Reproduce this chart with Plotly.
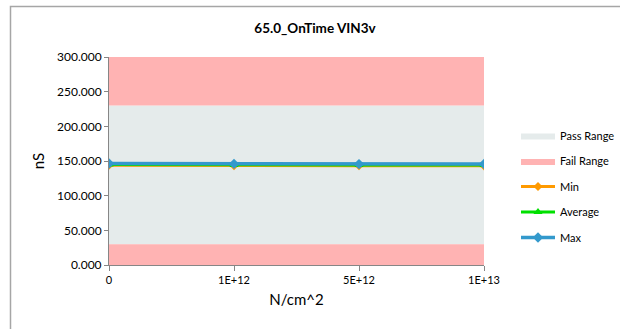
import plotly.graph_objects as go

categories = ["0", "1E+12", "5E+12", "1E+13"]
min_vals = [144.0, 143.2, 143.3, 143.0]
avg_vals = [145.0, 144.2, 144.4, 144.2]
max_vals = [146.4, 145.8, 145.5, 145.6]
pass_low, pass_high = 30.0, 230.0
axis_min, axis_max = 0.0, 300.0
yticks = [0, 50, 100, 150, 200, 250, 300]

W, H = 620, 329
L, R, T, B = 109, 136, 57, 64
pw, ph = W - L - R, H - T - B

xi = list(range(len(categories)))
x0, x1 = xi[0], xi[-1]

FONT = "Lato, Carlito, 'Liberation Sans', sans-serif"

fig = go.Figure()

# pass band
fig.add_trace(go.Scatter(
    x=[x0, x1, x1, x0, x0], y=[pass_low, pass_low, pass_high, pass_high, pass_low],
    fill="toself", fillcolor="#E5EBEB", line=dict(width=0), mode="lines",
    name="Pass Range", hoverinfo="skip", legendgroup="a"))
# fail bands (below and above the pass band)
fig.add_trace(go.Scatter(
    x=[x0, x1, x1, x0, x0, None, x0, x1, x1, x0, x0],
    y=[axis_min, axis_min, pass_low, pass_low, axis_min, None,
       pass_high, pass_high, axis_max, axis_max, pass_high],
    fill="toself", fillcolor="#FFB3B3", line=dict(width=0), mode="lines",
    name="Fail Range", hoverinfo="skip", legendgroup="b"))

fig.add_trace(go.Scatter(x=xi, y=min_vals, name="Min", mode="lines+markers",
                         line=dict(color="#FF9A00", width=3),
                         marker=dict(symbol="diamond", size=7, color="#FF9A00"),
                         legendgroup="c"))
fig.add_trace(go.Scatter(x=xi, y=avg_vals, name="Average", mode="lines+markers",
                         line=dict(color="#00E000", width=3),
                         marker=dict(symbol="triangle-up", size=8, color="#00E000"),
                         legendgroup="d"))
fig.add_trace(go.Scatter(x=xi, y=max_vals, name="Max", mode="lines+markers",
                         line=dict(color="#3399CC", width=3.5),
                         marker=dict(symbol="diamond", size=8, color="#3399CC"),
                         legendgroup="e"))

# outer chart border
fig.add_shape(type="rect", xref="paper", yref="paper",
              x0=(10.5 - L) / pw, x1=(W + 10 - L) / pw,
              y0=-(H + 10 - ph - T) / ph, y1=1 + (T - 6.5) / ph,
              line=dict(color="#A6A6A6", width=1.5), fillcolor="rgba(0,0,0,0)",
              layer="below")

fig.update_layout(
    width=W, height=H, autosize=False,
    margin=dict(l=L, r=R, t=T, b=B, autoexpand=False),
    paper_bgcolor="white", plot_bgcolor="white",
    font=dict(family=FONT, size=11, color="#000000"),
    title=dict(text="<b>65.0_OnTime VIN3v</b>", x=(315 - 0) / W, xanchor="center",
               y=1 - 28 / H, yanchor="middle", font=dict(size=13.5, family=FONT)),
    showlegend=True,
    legend=dict(x=(516 - L) / pw, y=1 - (121 - T) / ph, xanchor="left", yanchor="top",
                font=dict(size=11, family=FONT), bgcolor="rgba(0,0,0,0)",
                tracegroupgap=6.5, itemwidth=34),
    xaxis=dict(range=[x0, x1], tickvals=xi, ticktext=categories,
               showgrid=False, zeroline=False, showline=True, linecolor="#868686",
               ticks="outside", ticklen=5, tickcolor="#868686",
               tickfont=dict(size=11),
               title=dict(text="N/cm^2", font=dict(size=15), standoff=9)),
    yaxis=dict(range=[axis_min, axis_max], tickvals=yticks,
               ticktext=[f"{v:.3f}" for v in yticks],
               showgrid=False, zeroline=False, showline=True, linecolor="#868686",
               ticks="outside", ticklen=4, tickcolor="#868686",
               tickfont=dict(size=12),
               title=dict(text="nS", font=dict(size=15), standoff=8)),
)

fig.write_html("out.html")
